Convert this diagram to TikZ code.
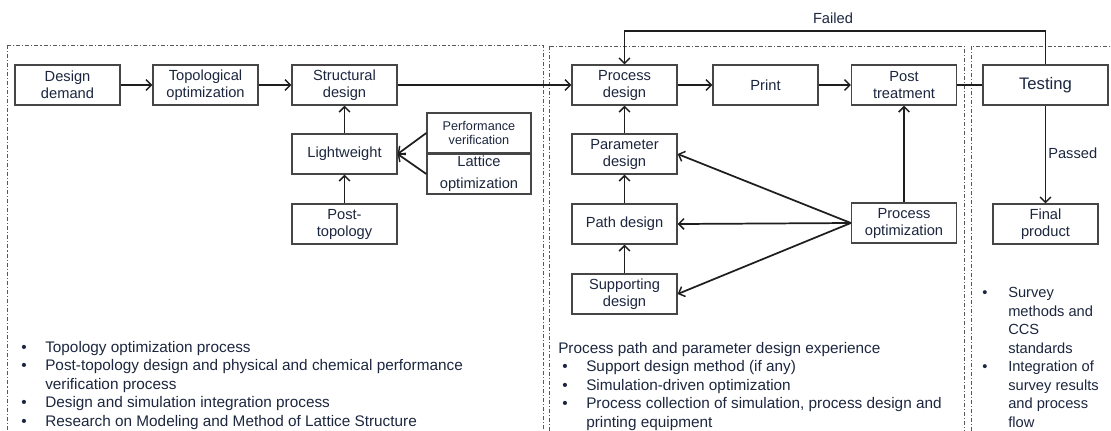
\documentclass[tikz,border=0pt]{standalone}
\usepackage{fontspec}
\setmainfont{Liberation Sans}
\usepackage{tikz}
\usetikzlibrary{arrows.meta}
\definecolor{flowtext}{RGB}{28, 38, 62}
\definecolor{flowline}{RGB}{30, 30, 30}
\definecolor{flowframe}{RGB}{70, 70, 70}

\tikzset{
  box/.style={draw=flowframe, line width=1pt, fill=white, text=flowtext,
    minimum width=78.75pt, minimum height=30pt, inner sep=1pt, align=center,
    font=\fontsize{11}{12.75}\selectfont},
  link/.style={-{Straight Barb[length=4pt,width=8pt,line width=1.1pt]}, line width=1.3pt, draw=flowline},
  plainlink/.style={line width=1.3pt, draw=flowline},
  panel/.style={draw=black!65, line width=0.6pt,
    dash pattern=on 3pt off 1.5pt on 0.8pt off 1.5pt},
  notes/.style={text=flowtext, align=left, inner sep=0pt, anchor=north west,
    font=\fontsize{11.5}{13.9}\selectfont},
  flowlabel/.style={text=flowtext, inner sep=0pt, font=\fontsize{11}{13}\selectfont},
}

\begin{document}
\begin{tikzpicture}[x=0.75pt,y=-0.75pt]
\useasboundingbox (0,0) rectangle (1111,430);

% Panels
\draw[panel] (7,45) rectangle (543,445);
\draw[panel] (549,46) rectangle (964,445);
\draw[panel] (971,46) rectangle (1125,445);

% Structure design
\node[box] (demand) at (67.5,85) {Design\\demand};
\node[box] (topo) at (205.5,85) {Topological\\optimization};
\node[box] (struct) at (344.5,85) {Structural\\design};
\node[box] (light) at (344.5,154) {Lightweight};
\node[box, minimum width=78pt, font=\fontsize{9.5}{11}\selectfont] (perf) at (479,133) {Performance\\verification};
\node[box, minimum width=78pt, font=\fontsize{11}{16.5}\selectfont] (lattice) at (479,174) {Lattice\\optimization};
\node[box] (posttopo) at (344.5,224) {Post-\\topology};

\draw[link] (demand) -- (topo);
\draw[link] (topo) -- (struct);
\draw[link] (light) -- (struct);
\draw[link] (posttopo) -- (light);
\draw[link] (perf.west) -- (light.east);
\draw[link] (lattice.west) -- (light.east);

% Process design
\node[box] (process) at (624.5,85) {Process\\design};
\node[box] (print) at (765.5,85) {Print};
\node[box] (posttreat) at (904,85) {Post\\treatment};
\node[box] (param) at (624.5,154) {Parameter\\design};
\node[box] (path) at (624.5,224) {Path design};
\node[box] (support) at (624.5,294) {Supporting\\design};
\node[box] (procopt) at (904,223) {Process\\optimization};

\draw[link] (struct) -- (process);
\draw[link] (process) -- (print);
\draw[link] (print) -- (posttreat);
\draw[link] (param) -- (process);
\draw[link] (path) -- (param);
\draw[link] (support) -- (path);
\draw[link] (procopt) -- (posttreat);
\draw[link] (procopt.west) -- (param.east);
\draw[link] (procopt.west) -- (path.east);
\draw[link] (procopt.west) -- (support.east);

% Testing
\node[box, minimum width=93.75pt, font=\fontsize{12.5}{14}\selectfont] (testing) at (1045.5,85) {Testing};
\node[box] (final) at (1045.5,224) {Final\\product};

\draw[plainlink] (posttreat) -- (testing);
\draw[link] (testing.north) -- ++(0,-33) -| (process.north);
\node[flowlabel] (failed) at (833,18) {Failed};
\draw[link] (testing) -- (final);
\node[flowlabel, anchor=west] (passed) at (1048,153) {Passed};

% Notes
\node[notes] (leftnotes) at (21,341) {%
\makebox[18pt][l]{•}Topology optimization process\\
\makebox[18pt][l]{•}Post-topology design and physical and chemical performance\\
\makebox[18pt][l]{}verification process\\
\makebox[18pt][l]{•}Design and simulation integration process\\
\makebox[18pt][l]{•}Research on Modeling and Method of Lattice Structure};
\node[notes] (midnotes) at (558,342) {%
Process path and parameter design experience\\
\hspace*{3pt}\makebox[18pt][l]{•}Support design method (if any)\\
\hspace*{3pt}\makebox[18pt][l]{•}Simulation-driven optimization\\
\hspace*{3pt}\makebox[18pt][l]{•}Process collection of simulation, process design and\\
\hspace*{3pt}\makebox[18pt][l]{}printing equipment};
\node[notes, font=\fontsize{11}{13.9}\selectfont] (rightnotes) at (982,287) {%
\makebox[19.5pt][l]{•}Survey\\
\makebox[19.5pt][l]{}methods and\\
\makebox[19.5pt][l]{}CCS\\
\makebox[19.5pt][l]{}standards\\
\makebox[19.5pt][l]{•}Integration of\\
\makebox[19.5pt][l]{}survey results\\
\makebox[19.5pt][l]{}and process\\
\makebox[19.5pt][l]{}flow};
\end{tikzpicture}
\end{document}
